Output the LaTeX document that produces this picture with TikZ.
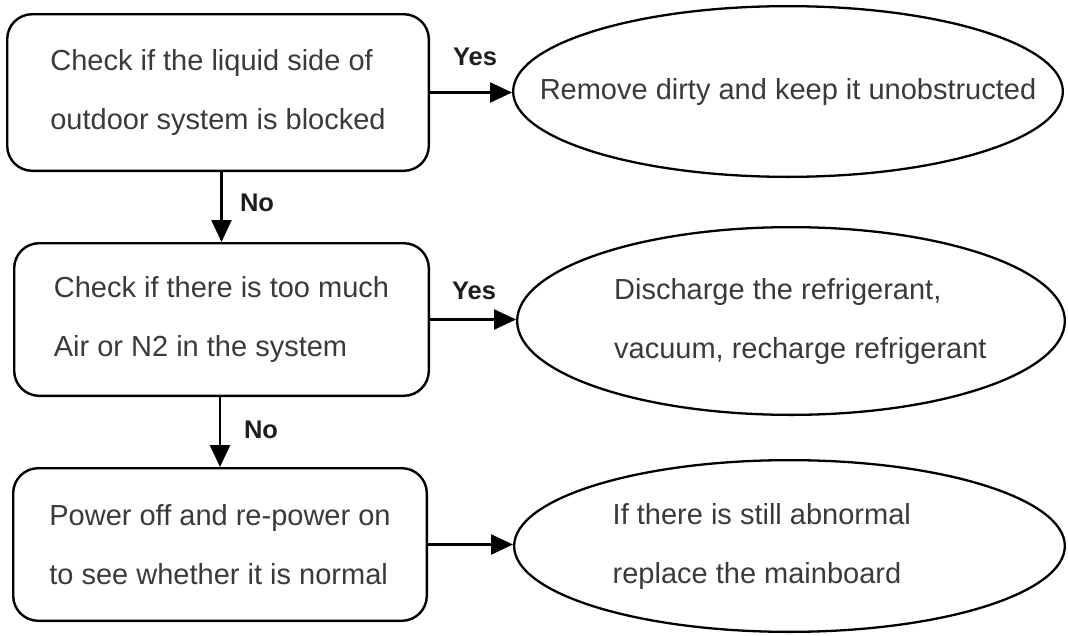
\documentclass[tikz,border=0pt]{standalone}
\usepackage{fontspec}
\setmainfont{Liberation Sans}
\usetikzlibrary{arrows.meta,shapes.geometric,calc}
\definecolor{txtgray}{HTML}{3A3A3A}
\definecolor{lblblack}{HTML}{1E1E1E}
\begin{document}
\begin{tikzpicture}[x=1pt,y=-1pt,
  box/.style={draw=black, line width=2.4pt, rounded corners=25pt, align=left,
    text=txtgray, font=\fontsize{29}{59}\selectfont, inner sep=0pt},
  oval/.style={draw=black, line width=2.3pt, ellipse, inner sep=0pt},
  otext/.style={text=txtgray, font=\fontsize{29}{59}\selectfont, align=left, inner sep=0pt},
  lbl/.style={font=\bfseries\fontsize{25.5}{30}\selectfont, text=lblblack, inner sep=0pt},
  arr/.style={line width=2.4pt, -{Triangle[length=22pt,width=20pt]}}]

\useasboundingbox (0,0) rectangle (1068,635);

% boxes
\node[box, minimum width=421.6pt, minimum height=156.6pt] (b1) at (218,92.5)
  {Check if the liquid side of\\outdoor system is blocked};
\node[box, minimum width=414.6pt, minimum height=152.6pt] (b2) at (221.5,319.5)
  {Check if there is too much\\Air or N2 in the system};
\node[box, minimum width=413.6pt, minimum height=152.6pt] (b3) at (220,544.5)
  {Power off and re-power on\\to see whether it is normal};

% ellipses
\node[oval, minimum width=549.7pt, minimum height=170.7pt] (e1) at (788,91.5) {};
\node[otext] (t1) at (e1.center) {Remove dirty and keep it unobstructed};

\node[oval, minimum width=547.7pt, minimum height=187.7pt] (e2) at (791,321) {};
\node[otext, anchor=west] (t2) at ([xshift=-177pt]e2.center)
  {Discharge the refrigerant,\\vacuum, recharge refrigerant};

\node[oval, minimum width=550.7pt, minimum height=171.7pt] (e3) at (789.5,546) {};
\node[otext, anchor=west] (t3) at ([xshift=-177pt]e3.center)
  {If there is still abnormal\\replace the mainboard};

% connectors
\draw[arr] (b1.east) -- (b1.east -| e1.west);
\draw[arr] (b2.east) -- (b2.east -| e2.west);
\draw[arr] (b3.east) -- (b3.east -| e3.west);
\draw[arr] (b1.south -| b2.north) -- (b2.north);
\draw[arr] (b2.south -| b3.north) -- (b3.north);

% labels
\node[lbl] (y1) at (475,57) {Yes};
\node[lbl] (y2) at (474,291) {Yes};
\node[lbl] (n1) at (257,203) {No};
\node[lbl] (n2) at (261,430) {No};
\end{tikzpicture}
\end{document}
